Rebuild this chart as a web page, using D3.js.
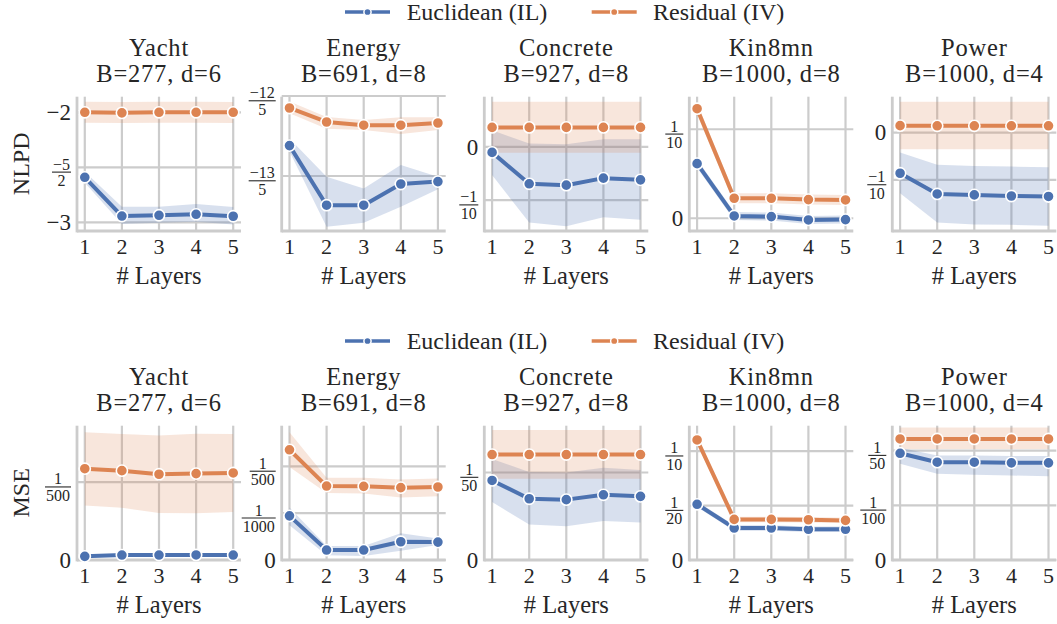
<!DOCTYPE html>
<html>
<head>
<meta charset="UTF-8">
<title>NLPD / MSE vs layers</title>
<style>
body{ margin:0; background:#fff; }
</style>
</head>
<body>
<script src="https://cdn.jsdelivr.net/npm/d3@7/dist/d3.min.js"></script>
<script>
// ---- data ----
var layers = [1, 2, 3, 4, 5];
var datasets = ["Yacht", "Energy", "Concrete", "Kin8mn", "Power"];
var subtitles = ["B=277, d=6", "B=691, d=8", "B=927, d=8", "B=1000, d=8", "B=1000, d=4"];
var seriesNames = ["Euclidean (IL)", "Residual (IV)"];

// NLPD, Euclidean (IL)
var nlpdEucl = [
  [-2.591, -2.943, -2.936, -2.927, -2.945],
  [-2.524, -2.673, -2.673, -2.620, -2.614],
  [-0.0105, -0.0694, -0.072, -0.0588, -0.062],
  [0.0614, 0.0026, 0.0019, -0.0019, -0.0015],
  [-0.0859, -0.1296, -0.1317, -0.134, -0.135]
];
var nlpdEuclLo = [
  [-2.64, -3.015, -3.005, -2.994, -3.02],
  [-2.539, -2.727, -2.717, -2.677, -2.633],
  [-0.053, -0.142, -0.149, -0.132, -0.137],
  [0.0569, -0.0019, -0.0026, -0.0064, -0.006],
  [-0.128, -0.190, -0.194, -0.195, -0.197]
];
var nlpdEuclHi = [
  [-2.54, -2.858, -2.858, -2.834, -2.861],
  [-2.506, -2.602, -2.631, -2.5725, -2.602],
  [0.031, 0.0063, 0.005, 0.014, 0.014],
  [0.0659, 0.0071, 0.0064, 0.0026, 0.003],
  [-0.042, -0.068, -0.0704, -0.0718, -0.0733]
];
// NLPD, Residual (IV)
var nlpdResid = [
  [-2.0, -2.005, -2.0, -2.0, -2.0],
  [-2.43, -2.465, -2.473, -2.473, -2.4675],
  [0.0364, 0.0364, 0.0364, 0.0364, 0.0364],
  [0.1231, 0.0225, 0.0225, 0.021, 0.0206],
  [0.0148, 0.0145, 0.0145, 0.0145, 0.0145]
];
var nlpdResidLo = [
  [-2.095, -2.097, -2.095, -2.095, -2.097],
  [-2.443, -2.482, -2.485, -2.495, -2.485],
  [-0.011, -0.011, -0.011, -0.011, -0.011],
  [0.1166, 0.0169, 0.0169, 0.0154, 0.015],
  [-0.035, -0.035, -0.035, -0.035, -0.035]
];
var nlpdResidHi = [
  [-1.904, -1.906, -1.904, -1.905, -1.906],
  [-2.414, -2.4525, -2.46, -2.453, -2.453],
  [0.0844, 0.0844, 0.0844, 0.0844, 0.0844],
  [0.1296, 0.0281, 0.0281, 0.0266, 0.0262],
  [0.0655, 0.0655, 0.0655, 0.0655, 0.0655]
];
var nlpdDomain = [[-3.079, -1.858], [-2.7375, -2.4018], [-0.158, 0.094], [-0.0143, 0.1366], [-0.208, 0.076]];
var nlpdTicks = [[-3, -2.5, -2], [-2.6, -2.4], [-0.1, 0], [0, 0.1], [-0.1, 0]];
var nlpdTickLabels = [["−3", "−5/2", "−2"], ["−13/5", "−12/5"], ["−1/10", "0"], ["0", "1/10"], ["−1/10", "0"]];

// MSE, Euclidean (IL)
var mseEucl = [
  [0.000094, 0.000127, 0.000127, 0.00013, 0.000127],
  [0.000943, 0.000213, 0.000213, 0.00039, 0.000383],
  [0.01818, 0.0140, 0.0138, 0.0149, 0.01455],
  [0.0512, 0.0294, 0.0294, 0.0282, 0.0282],
  [0.01951, 0.01788, 0.01788, 0.01776, 0.01776]
];
var mseEuclLo = [
  [0.000074, 0.000107, 0.000107, 0.00011, 0.000107],
  [0.000745, 0.0001, 0.000085, 0.0002, 0.00032],
  [0.01326, 0.0081, 0.0077, 0.0089, 0.00857],
  [0.0487, 0.0269, 0.0269, 0.0257, 0.0257],
  [0.0176, 0.01576, 0.01558, 0.01545, 0.0153]
];
var mseEuclHi = [
  [0.000114, 0.000147, 0.000147, 0.00015, 0.000147],
  [0.00112, 0.0003, 0.0003, 0.00057, 0.00046],
  [0.0231, 0.0201, 0.0200, 0.0211, 0.0206],
  [0.0537, 0.0319, 0.0319, 0.0307, 0.0307],
  [0.0205, 0.0191, 0.0191, 0.0190, 0.0190]
];
// MSE, Residual (IV)
var mseResid = [
  [0.002346, 0.002295, 0.002203, 0.00222, 0.002236],
  [0.002355, 0.00158, 0.001574, 0.001546, 0.00156],
  [0.0241, 0.0241, 0.0241, 0.0241, 0.0241],
  [0.1103, 0.0373, 0.0373, 0.037, 0.0364],
  [0.02213, 0.02213, 0.02213, 0.02213, 0.02213]
];
var mseResidLo = [
  [0.0014, 0.00134, 0.00121, 0.0012, 0.00123],
  [0.001985, 0.00143, 0.00142, 0.001334, 0.00136],
  [0.01857, 0.01857, 0.01857, 0.01857, 0.01857],
  [0.1065, 0.0348, 0.0348, 0.0345, 0.0339],
  [0.0203, 0.0203, 0.0203, 0.0203, 0.0203]
];
var mseResidHi = [
  [0.00328, 0.003235, 0.0032, 0.003245, 0.003235],
  [0.00273, 0.00176, 0.00176, 0.00172, 0.00174],
  [0.0297, 0.0297, 0.0297, 0.0297, 0.0297],
  [0.1141, 0.0398, 0.0398, 0.0395, 0.0389],
  [0.02424, 0.02424, 0.02424, 0.02424, 0.02424]
];
var mseDomain = [[0, 0.00345], [0, 0.00287], [0, 0.0307], [0, 0.1234], [0, 0.02455]];
var mseTicks = [[0, 0.002], [0, 0.001, 0.002], [0, 0.02], [0, 0.05, 0.1], [0, 0.01, 0.02]];
var mseTickLabels = [["0", "1/500"], ["0", "1/1000", "1/500"], ["0", "1/50"], ["0", "1/20", "1/10"], ["0", "1/100", "1/50"]];

// ---- layout ----
var width = 1057, height = 624;
var colLeft = [77, 281.7, 484.3, 689.3, 892.3];
var axW = 164, axH = 134.3;
var colors = ["#4c72b0", "#dd8452"];
var bandColors = ["rgba(76,114,176,0.22)", "rgba(221,132,82,0.2)"];
var gridColor = "#cccccc", textColor = "#262626";
var serif = "'Liberation Serif', 'DejaVu Serif', serif";

var svg = d3.select("body").append("svg")
    .attr("width", width)
    .attr("height", height)
    .attr("font-family", serif)
    .style("font-family", serif);

function drawLegend(cy){
    var items = [{x: 345, tx: 406.7}, {x: 591.7, tx: 653}];
    items.forEach(function(it, i){
        var g = svg.append("g");
        g.append("line")
            .attr("x1", it.x).attr("x2", it.x + 45)
            .attr("y1", cy).attr("y2", cy)
            .attr("stroke", colors[i]).attr("stroke-width", 3.5);
        g.append("circle")
            .attr("cx", it.x + 22.5).attr("cy", cy).attr("r", 3.6)
            .attr("fill", colors[i]).attr("stroke", "#fff").attr("stroke-width", 1.5);
        g.append("text")
            .attr("x", it.tx).attr("y", cy + 8)
            .attr("font-size", 24).attr("fill", textColor)
            .text(seriesNames[i]);
    });
}

// y tick label: plain number, or a stacked fraction "num/den"
function tickLabel(g, x, y, label){
    var parts = label.split("/");
    if(parts.length === 1){
        g.append("text")
            .attr("x", x).attr("y", y + 7.8)
            .attr("text-anchor", "end")
            .attr("font-size", 23).attr("fill", textColor)
            .text(label);
        return;
    }
    var bar = y + 4.8;
    var num = g.append("text").attr("font-size", 16).attr("fill", textColor)
        .attr("text-anchor", "middle").text(parts[0]);
    var den = g.append("text").attr("font-size", 16).attr("fill", textColor)
        .attr("text-anchor", "middle").text(parts[1]);
    var w = Math.max(num.node().getComputedTextLength(), den.node().getComputedTextLength()) + 2;
    var cx = x - w / 2;
    num.attr("x", cx).attr("y", bar - 2.5);
    den.attr("x", cx).attr("y", bar + 14);
    g.append("line")
        .attr("x1", x - w).attr("x2", x)
        .attr("y1", bar).attr("y2", bar)
        .attr("stroke", textColor).attr("stroke-width", 1.1);
}

function drawPanel(i, top, metric){
    var left = colLeft[i];
    var g = svg.append("g");
    var x = d3.scaleLinear().domain([0.79, 5.21]).range([left, left + axW]);
    var y = d3.scaleLinear().domain(metric.domain[i]).range([top + axH, top]);

    // grid
    g.selectAll("line.vgrid").data(layers).enter().append("line")
        .attr("x1", function(d){ return x(d); }).attr("x2", function(d){ return x(d); })
        .attr("y1", top).attr("y2", top + axH)
        .attr("stroke", gridColor).attr("stroke-width", 2.2);
    g.selectAll("line.hgrid").data(metric.ticks[i]).enter().append("line")
        .attr("x1", left).attr("x2", left + axW)
        .attr("y1", function(d){ return y(d); }).attr("y2", function(d){ return y(d); })
        .attr("stroke", gridColor).attr("stroke-width", 2.2);

    // spines
    g.append("line").attr("x1", left).attr("x2", left).attr("y1", top).attr("y2", top + axH + 1.4)
        .attr("stroke", gridColor).attr("stroke-width", 2.8);
    g.append("line").attr("x1", left).attr("x2", left + axW).attr("y1", top + axH).attr("y2", top + axH)
        .attr("stroke", gridColor).attr("stroke-width", 2.8);

    var series = [
        {v: metric.eucl[i], lo: metric.euclLo[i], hi: metric.euclHi[i]},
        {v: metric.resid[i], lo: metric.residLo[i], hi: metric.residHi[i]}
    ];
    var area = d3.area()
        .x(function(d, j){ return x(layers[j]); })
        .y0(function(d){ return y(d[0]); })
        .y1(function(d){ return y(d[1]); });
    var line = d3.line()
        .x(function(d, j){ return x(layers[j]); })
        .y(function(d){ return y(d); });

    series.forEach(function(s, k){
        var band = s.lo.map(function(lo, j){ return [lo, s.hi[j]]; });
        g.append("path").attr("d", area(band)).attr("fill", bandColors[k]);
    });
    series.forEach(function(s, k){
        g.append("path").attr("d", line(s.v))
            .attr("fill", "none").attr("stroke", colors[k]).attr("stroke-width", 4)
            .attr("stroke-linejoin", "round");
        g.selectAll("circle.m" + k).data(s.v).enter().append("circle")
            .attr("cx", function(d, j){ return x(layers[j]); })
            .attr("cy", function(d){ return y(d); })
            .attr("r", 5.6)
            .attr("fill", colors[k]).attr("stroke", "#fff").attr("stroke-width", 1.6);
    });

    // x tick labels
    g.selectAll("text.xt").data(layers).enter().append("text")
        .attr("x", function(d){ return x(d); })
        .attr("y", top + axH + 22.5)
        .attr("text-anchor", "middle").attr("font-size", 22).attr("fill", textColor)
        .text(function(d){ return d; });
    g.append("text")
        .attr("x", left + axW / 2).attr("y", top + axH + 52.5)
        .attr("text-anchor", "middle").attr("font-size", 24.5).attr("fill", textColor)
        .text("# Layers");

    // y tick labels
    metric.ticks[i].forEach(function(t, j){
        tickLabel(g, left - 6, y(t), metric.labels[i][j]);
    });

    // two-line title
    g.append("text")
        .attr("x", left + axW / 2).attr("y", top - 41)
        .attr("text-anchor", "middle").attr("font-size", 24.5).attr("fill", textColor)
        .attr("letter-spacing", 0.8)
        .text(datasets[i]);
    g.append("text")
        .attr("x", left + axW / 2).attr("y", top - 15)
        .attr("text-anchor", "middle").attr("font-size", 24.5).attr("fill", textColor)
        .attr("letter-spacing", 0.8)
        .text(subtitles[i]);
}

function drawRow(top, metric, ylabel){
    drawLegend(top - 84.7);
    for(var i = 0; i < datasets.length; i++) drawPanel(i, top, metric);
    svg.append("text")
        .attr("transform", "translate(" + 29 + "," + (top + axH / 2) + ") rotate(-90)")
        .attr("text-anchor", "middle").attr("font-size", 24).attr("fill", textColor)
        .text(ylabel);
}

drawRow(96.7, {
    eucl: nlpdEucl, euclLo: nlpdEuclLo, euclHi: nlpdEuclHi,
    resid: nlpdResid, residLo: nlpdResidLo, residHi: nlpdResidHi,
    domain: nlpdDomain, ticks: nlpdTicks, labels: nlpdTickLabels
}, "NLPD");

drawRow(425.7, {
    eucl: mseEucl, euclLo: mseEuclLo, euclHi: mseEuclHi,
    resid: mseResid, residLo: mseResidLo, residHi: mseResidHi,
    domain: mseDomain, ticks: mseTicks, labels: mseTickLabels
}, "MSE");
</script>
</body>
</html>
